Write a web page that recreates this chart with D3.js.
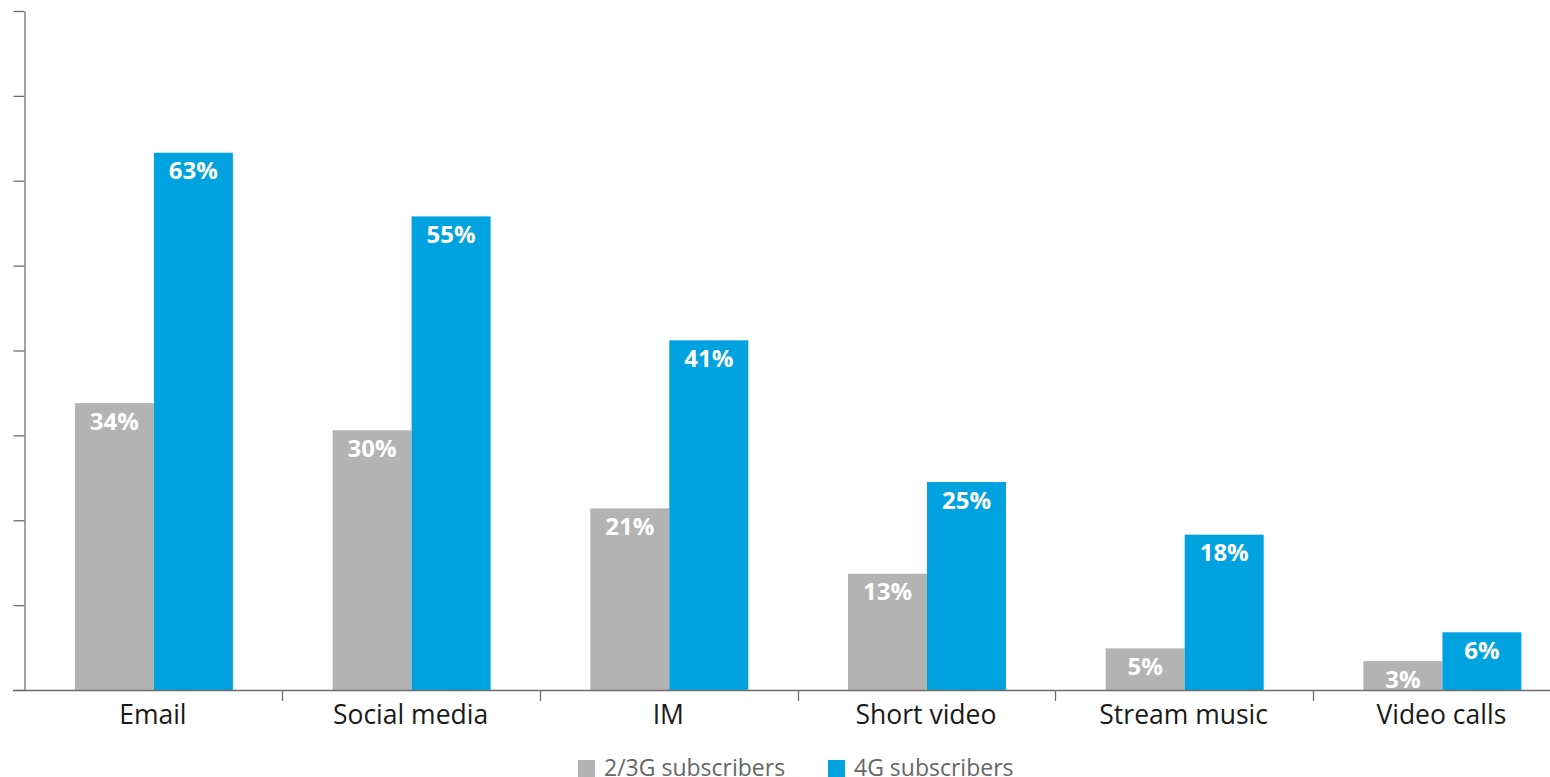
<!DOCTYPE html>
<html>
<head>
<meta charset="utf-8">
<script src="https://cdn.jsdelivr.net/npm/d3@7"></script>
<style>
  html, body { margin: 0; padding: 0; background: #fff; }
  svg { display: block; font-family: "Open Sans", sans-serif; }
</style>
</head>
<body>
<svg id="chart" width="1550" height="777"></svg>
<script>
const categories = ["Email", "Social media", "IM", "Short video", "Stream music", "Video calls"];
const seriesNames = ["2/3G subscribers", "4G subscribers"];
const values23G = [33.8, 30.6, 21.4, 13.7, 4.9, 3.4];
const values4G = [63.3, 55.8, 41.2, 24.5, 18.3, 6.8];
const labels23G = ["34%", "30%", "21%", "13%", "5%", "3%"];
const labels4G = ["63%", "55%", "41%", "25%", "18%", "6%"];
const yTicks = [0, 10, 20, 30, 40, 50, 60, 70, 80];
const colors = ["#b3b3b3", "#00a3e0"];

const svg = d3.select("#chart");
const axisColor = "#6e6e6e";

const x0 = d3.scaleBand().domain(categories).range([24.5, 1570.7]).padding(0);
const x1 = d3.scaleBand().domain(seriesNames).range([50.4, 208.4]).padding(0);
const y = d3.scaleLinear().domain([0, 80]).range([690, 11]);

const data = categories.map((c, i) => ({
  cat: c,
  items: [
    { s: seriesNames[0], v: values23G[i], label: labels23G[i] },
    { s: seriesNames[1], v: values4G[i], label: labels4G[i] }
  ]
}));

// bars
const groups = svg.append("g").selectAll("g").data(data).join("g")
  .attr("transform", d => `translate(${x0(d.cat)},0)`);

groups.selectAll("rect").data(d => d.items).join("rect")
  .attr("x", d => x1(d.s))
  .attr("width", x1.bandwidth())
  .attr("y", d => y(d.v))
  .attr("height", d => y(0) - y(d.v))
  .attr("fill", d => colors[seriesNames.indexOf(d.s)]);

groups.selectAll("text.val").data(d => d.items).join("text")
  .attr("class", "val")
  .attr("x", d => x1(d.s) + x1.bandwidth() / 2)
  .attr("y", d => y(d.v) + 26.5)
  .attr("text-anchor", "middle")
  .attr("fill", "#ffffff")
  .attr("font-weight", "bold")
  .attr("font-size", "24px")
  .text(d => d.label);

// y axis
const yAxis = svg.append("g")
  .attr("transform", "translate(24.5,0)")
  .call(d3.axisLeft(y).tickValues(yTicks).tickSize(11).tickSizeOuter(0).tickFormat(""));
yAxis.selectAll("path, line").attr("stroke", axisColor).attr("stroke-width", 1.3);

// x axis
const xAxisG = svg.append("g");
xAxisG.append("line")
  .attr("x1", 13).attr("x2", 1550)
  .attr("y1", y(0) + 0.5).attr("y2", y(0) + 0.5)
  .attr("stroke", axisColor).attr("stroke-width", 1.3);
xAxisG.selectAll("line.tick").data(categories.slice(1)).join("line")
  .attr("class", "tick")
  .attr("x1", d => Math.round(x0(d)) + 0.5).attr("x2", d => Math.round(x0(d)) + 0.5)
  .attr("y1", y(0)).attr("y2", y(0) + 11)
  .attr("stroke", axisColor).attr("stroke-width", 1.3);
xAxisG.selectAll("text").data(categories).join("text")
  .attr("x", d => x0(d) + x0.bandwidth() / 2 - 0.5)
  .attr("y", 723.5)
  .attr("text-anchor", "middle")
  .attr("fill", "#1a1a1a")
  .attr("font-size", "26.5px")
  .text(d => d);

// legend
const legend = svg.append("g");
const legendX = [578, 828];
seriesNames.forEach((s, i) => {
  legend.append("rect")
    .attr("x", legendX[i]).attr("y", 760)
    .attr("width", 17).attr("height", 17)
    .attr("fill", colors[i]);
  legend.append("text")
    .attr("x", legendX[i] + 26).attr("y", 776)
    .attr("fill", "#666666")
    .attr("font-size", "23px")
    .text(s);
});
</script>
</body>
</html>
